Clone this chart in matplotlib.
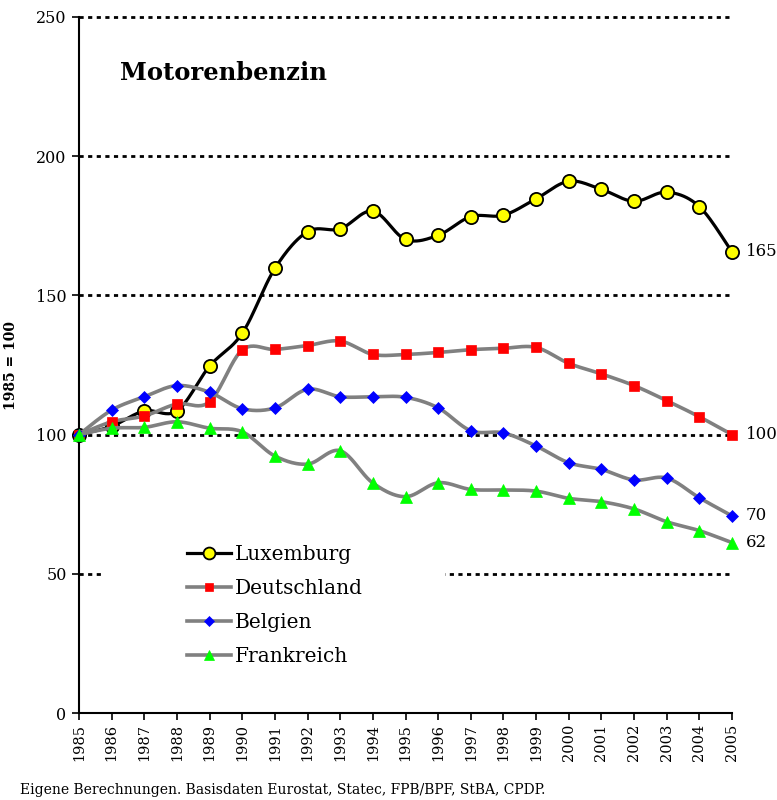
import numpy as np
import matplotlib.pyplot as plt
from matplotlib.patches import Rectangle

years = list(range(1985, 2006))
luxemburg = [100, 103, 108.5, 108.5, 124.6, 136.4, 159.7, 172.9, 173.9, 180.3, 170.1,
             171.6, 178.3, 178.8, 184.7, 191.0, 188.1, 183.8, 187.1, 181.9, 165.6]
deutschland = [100, 104.6, 106.7, 111.0, 111.8, 130.4, 130.6, 132.0, 133.6, 128.8, 128.8,
               129.5, 130.5, 131.0, 131.3, 125.6, 121.8, 117.6, 112.2, 106.4, 100.0]
belgien = [100, 108.8, 113.6, 117.6, 115.2, 109.3, 109.6, 116.3, 113.6, 113.6, 113.4,
           109.6, 101.4, 100.6, 95.9, 89.9, 87.5, 83.7, 84.4, 77.3, 70.8]
frankreich = [100, 102.3, 102.6, 104.6, 102.3, 101.0, 92.3, 89.4, 94.2, 82.6, 77.7,
              82.7, 80.3, 80.1, 79.7, 77.1, 75.9, 73.3, 68.7, 65.5, 61.2]
end_labels = ["165", "100", "70", "62"]

plt.rcParams['font.family'] = ['DejaVu Serif']


def smooth(x, y, n=24):
    # Catmull-Rom curve through the points (like Excel's smoothed lines)
    x = np.asarray(x, float)
    y = np.asarray(y, float)
    px = np.concatenate([[x[0]], x, [x[-1]]])
    py = np.concatenate([[y[0]], y, [y[-1]]])
    xs, ys = [], []
    t = np.linspace(0, 1, n)
    for i in range(1, len(px) - 2):
        for p, out in ((px, xs), (py, ys)):
            p0, p1, p2, p3 = p[i - 1], p[i], p[i + 1], p[i + 2]
            out.extend(0.5 * ((2 * p1) + (-p0 + p2) * t
                              + (2 * p0 - 5 * p1 + 4 * p2 - p3) * t ** 2
                              + (-p0 + 3 * p1 - 3 * p2 + p3) * t ** 3))
    return np.array(xs), np.array(ys)


fig = plt.figure(figsize=(7.77, 8), dpi=100)
ax = fig.add_axes([79 / 777, 1 - 713 / 800, 653 / 777, 696 / 800])

series = [
    ("Luxemburg", luxemburg, dict(color='black', marker='o', ms=9.5, mfc='#ffff00', mec='black', mew=1.3), 2.3),
    ("Deutschland", deutschland, dict(color='#808080', marker='s', ms=7, mfc='#ff0000', mec='#ff0000', mew=0.5), 2.6),
    ("Belgien", belgien, dict(color='#808080', marker='D', ms=6, mfc='#0000ff', mec='#0000ff', mew=0.5), 2.6),
    ("Frankreich", frankreich, dict(color='#808080', marker='^', ms=8, mfc='#00ff00', mec='#00ff00', mew=0.5), 2.6),
]

handles = []
for z, (name, vals, st, lw) in enumerate(series):
    sx, sy = smooth(years, vals)
    ax.plot(sx, sy, color=st['color'], lw=lw, zorder=3 + z, clip_on=False, solid_capstyle='round')
    ax.plot(years, vals, ls='none', marker=st['marker'], ms=st['ms'], mfc=st['mfc'],
            mec=st['mec'], mew=st['mew'], zorder=3.5 + z, clip_on=False)
    h, = ax.plot([], [], color=st['color'], lw=lw, marker=st['marker'], ms=st['ms'] * 0.9,
                 mfc=st['mfc'], mec=st['mec'], mew=st['mew'])
    handles.append(h)

for (name, vals, st, lw), lab in zip(series, end_labels):
    ax.annotate(lab, (2005, vals[-1]), xytext=(10, 0), textcoords='offset points',
                va='center', ha='left', fontsize=12)

# dotted gridlines
for g in [50, 100, 150, 200, 250]:
    ax.axhline(g, color='black', lw=2, ls=(0, (1.5, 1.6)), zorder=1, clip_on=False)

# white box behind legend hides part of the 50 line
ax.add_patch(Rectangle((1985.7, 44), 10.5, 12, facecolor='white', edgecolor='none', zorder=2))

ax.legend(handles, [s[0] for s in series], loc='upper left',
          bbox_to_anchor=(177 / 777, 1 - 535 / 800), bbox_transform=fig.transFigure,
          frameon=False, fontsize=14.5, handlelength=2.2, handletextpad=0.15,
          labelspacing=0.75, borderpad=0)

ax.text(1986.25, 230, "Motorenbenzin", fontsize=17.5, fontweight='bold', va='center', ha='left')

ax.set_xlim(1985, 2005)
ax.set_ylim(0, 250)
ax.set_xticks(years)
ax.set_xticklabels([str(y) for y in years], rotation=90, fontsize=10.5)
ax.set_yticks([0, 50, 100, 150, 200, 250])
ax.tick_params(axis='y', labelsize=11.5, direction='out', length=5, width=1.2, pad=4)
ax.tick_params(axis='x', direction='out', length=5, width=1.2, pad=3)
for s in ['top', 'right']:
    ax.spines[s].set_visible(False)
for s in ['left', 'bottom']:
    ax.spines[s].set_linewidth(1.5)
ax.set_ylabel("1985 = 100", fontsize=10, fontweight='bold')
ax.yaxis.set_label_coords((18 - 79) / 653, 0.5)

fig.text(20 / 777, 1 - 790 / 800, "Eigene Berechnungen. Basisdaten Eurostat, Statec, FPB/BPF, StBA, CPDP.",
         fontsize=10, va='center', ha='left')

fig.savefig("out.png", dpi=100)
